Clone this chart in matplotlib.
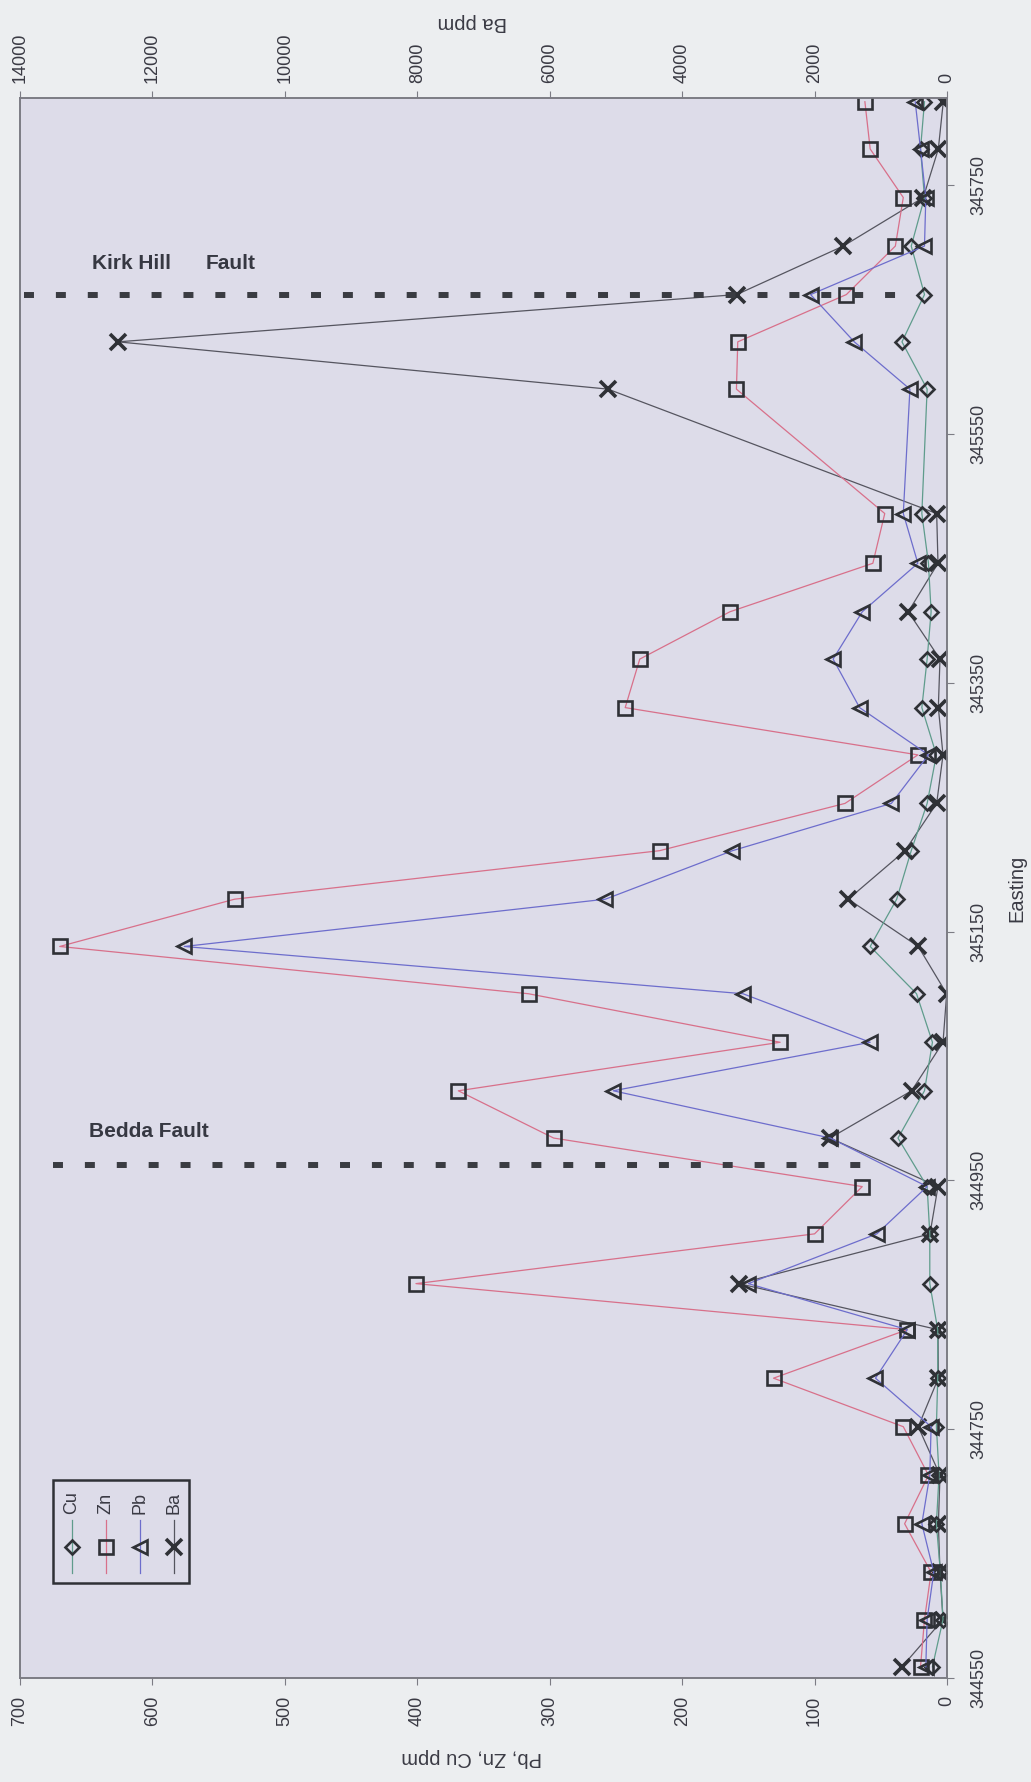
import matplotlib
matplotlib.use('Agg')
import matplotlib.pyplot as plt
from matplotlib.lines import Line2D
from matplotlib.patches import Rectangle

plt.rcParams['font.family'] = ['Liberation Sans', 'DejaVu Sans']

# sample positions along the traverse and assays (ppm)
easting = [344559, 344597, 344635, 344674, 344713, 344752, 344791, 344830,
           344867, 344907, 344945, 344984, 345022, 345061, 345100, 345138,
           345176, 345215, 345253, 345292, 345330, 345369, 345407, 345446,
           345486, 345586, 345624, 345662, 345701, 345740, 345779, 345817]
cu = [11, 3, 5, 8, 6, 8, 7, 7, 13, 13, 15, 37, 17, 11, 23, 58,
      38, 27, 15, 8, 19, 15, 12, 14, 19, 15, 34, 17, 27, 17, 20, 17]
zn = [20, 17, 12, 32, 14, 33, 131, 30, 401, 100, 64, 297, 369, 126, 316, 670,
      538, 217, 77, 22, 243, 232, 164, 56, 47, 159, 158, 76, 39, 33, 58, 62]
pb = [16, 15, 10, 19, 13, 12, 54, 30, 150, 53, 15, 88, 252, 58, 154, 576,
      258, 162, 42, 14, 66, 86, 64, 22, 33, 28, 70, 103, 17, 16, 20, 24]
ba = [680, 60, 106, 130, 106, 434, 131, 136, 3141, 257, 136, 1767, 534, 60, 5, 434,
      1491, 634, 156, 60, 131, 106, 585, 136, 156, 5120, 12520, 3176, 1566, 358, 131, 56]

fault_easting = [344962, 345662]
fault_extent = [(675, 58), (697, 34)]   # ppm range covered by the dashed line

ppm_ticks = list(range(0, 701, 100))
ba_ticks = list(range(0, 14001, 2000))
east_ticks = list(range(344550, 345751, 200))

W, H = 1031, 1782
txt = '#3a3a44'
edge = '#2f3136'
col = {'Cu': '#5f9c8c', 'Zn': '#d8708a', 'Pb': '#6d6dcc', 'Ba': '#55555f'}
mk = {'Cu': ('D', 7), 'Zn': ('s', 10), 'Pb': ('<', 10), 'Ba': ('x', 11)}

fig = plt.figure(figsize=(W / 100, H / 100), dpi=100, facecolor='#eceef0')
ax = fig.add_axes([20 / W, 104 / H, 927 / W, 1580 / H])
ax2 = ax.twiny()
# Ba axis sits underneath, carrying the plot background
ax.set_zorder(ax2.get_zorder() + 1)
ax.patch.set_visible(False)
ax2.patch.set_visible(True)
ax2.set_facecolor('#dddce9')

ax.set_xlim(700, 0)
ax2.set_xlim(14000, 0)
ax.set_ylim(344550, 345820)

for name, vals in [('Cu', cu), ('Zn', zn), ('Pb', pb)]:
    m, s = mk[name]
    ax.plot(vals, easting, color=col[name], lw=0.9, marker=m, ms=s,
            mfc='none', mec=edge, mew=1.9, label=name)
m, s = mk['Ba']
ax2.plot(ba, easting, color=col['Ba'], lw=0.9, marker=m, ms=s,
         mec=edge, mew=2.6, label='Ba')

# fault traces
for fe, (x0, x1) in zip(fault_easting, fault_extent):
    ax.plot([x0, x1], [fe, fe], color='#3a3c42', lw=4.3,
            linestyle=(0, (1.67, 3.67)), solid_capstyle='butt', zorder=5)
ax.text(648, 344989, 'Bedda Fault', fontsize=15, fontweight='bold',
        color='#363842', ha='left', va='center')
ax.text(646, 345687, 'Kirk Hill', fontsize=15, fontweight='bold',
        color='#363842', ha='left', va='center')
ax.text(560, 345687, 'Fault', fontsize=15, fontweight='bold',
        color='#363842', ha='left', va='center')

for a in (ax, ax2):
    for sp in a.spines.values():
        sp.set_color('#7c7c84')
        sp.set_linewidth(1.2)

ax.set_xticks(ppm_ticks)
ax.tick_params(axis='x', direction='out', length=5, color='#7c7c84',
               labelsize=13, labelcolor=txt, labelrotation=90, pad=8)
ax.yaxis.tick_right()
ax.set_yticks(east_ticks)
ax.tick_params(axis='y', direction='out', length=5, color='#7c7c84',
               labelsize=13, labelcolor=txt, labelrotation=90, pad=12)
for lbl in ax.get_yticklabels():
    lbl.set_va('center')
ax2.set_xticks(ba_ticks)
ax2.tick_params(axis='x', direction='out', length=5, color='#7c7c84',
                labelsize=13, labelcolor=txt, labelrotation=90, pad=6)

ax.set_xlabel('Pb, Zn, Cu ppm', rotation=180, fontsize=14.5, color=txt)
ax.xaxis.label.set_va('center')
ax.xaxis.set_label_coords(0.4876, -0.050)
ax2.set_xlabel('Ba ppm', rotation=180, fontsize=14.5, color=txt)
ax2.xaxis.label.set_va('center')
ax2.xaxis.set_label_coords(0.4876, 1.048)
ax.yaxis.set_label_position('right')
ax.set_ylabel('Easting', rotation=90, fontsize=14.5, color=txt)
ax.yaxis.label.set_va('center')
ax.yaxis.set_label_coords(1.0755, 0.5)

# legend, turned with the rest of the chart
def fx(x):
    return x / W


def fy(y):
    return 1 - y / H


fig.add_artist(Rectangle((fx(53), fy(1583)), fx(189) - fx(53), fy(1480) - fy(1583),
                         transform=fig.transFigure, fill=False, ec=edge, lw=1.8))
for i, name in enumerate(['Cu', 'Zn', 'Pb', 'Ba']):
    x = 72 + 34 * i
    fig.add_artist(Line2D([fx(x), fx(x)], [fy(1573), fy(1520)], color=col[name],
                          lw=0.9, transform=fig.transFigure))
    m, s = mk[name]
    fig.add_artist(Line2D([fx(x)], [fy(1547)], marker=m, ms=s, mfc='none', mec=edge,
                          mew=2.6 if name == 'Ba' else 1.9, lw=0,
                          transform=fig.transFigure))
    fig.text(fx(x), fy(1503), name, rotation=90, ha='center', va='center',
             fontsize=13, color=txt)

fig.savefig('out.png', dpi=100, facecolor=fig.get_facecolor())
